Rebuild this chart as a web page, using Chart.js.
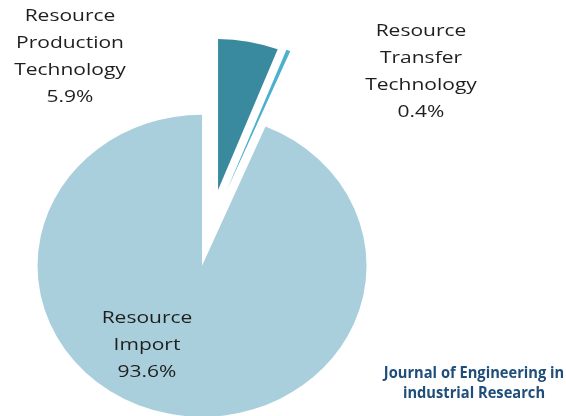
<!DOCTYPE html>
<html>
<head>
<meta charset="utf-8">
<script src="https://cdn.jsdelivr.net/npm/chart.js@4.4.0/dist/chart.umd.min.js"></script>
<style>
  html, body { margin: 0; padding: 0; background: #fff; }
  #wrap { width: 566px; height: 416px; }
</style>
</head>
<body>
<div id="wrap"><canvas id="pieChart" width="566" height="416"></canvas></div>
<script>
// Data
const categories = [
    ['Resource', 'Production', 'Technology'],
    ['Resource', 'Transfer', 'Technology'],
    ['Resource', 'Import']
];
const shares = [5.9, 0.4, 93.6];
const credit = ['Journal of Engineering in', 'industrial Research'];

// Styling
const sliceColors = ['#3a8a9f', '#4bb1cc', '#aacfdc'];
const explode = [42, 44, 42];         // px every slice is pulled out from the centre
const pieRadius = 164.5;
const squash = 0.918;                 // the original pie is slightly flattened
const labelSpots = [[70, 21], [421, 36], [147, 323]];  // centre x, first baseline
const lineGap = 27;

// Draw the arcs ourselves: pulled out along their mid angle and flattened,
// without Chart.js' own offset (which also shrinks the slice)
const explodePie = {
    id: 'explodePie',
    beforeDatasetDraw(chart, args) {
        const ctx = chart.ctx;
        const arcs = args.meta.data;
        const cy = arcs[0].y;
        ctx.save();
        ctx.translate(0, cy);
        ctx.scale(1, squash);
        ctx.translate(0, -cy);
        arcs.forEach((arc, i) => {
            const mid = (arc.startAngle + arc.endAngle) / 2;
            ctx.save();
            ctx.translate(Math.cos(mid) * explode[i], Math.sin(mid) * explode[i]);
            arc.draw(ctx, chart.chartArea);
            ctx.restore();
        });
        ctx.restore();
        return false;
    }
};

function wideText(ctx, text, x, y, sx, sy) {
    ctx.save();
    ctx.translate(x, y);
    ctx.scale(sx, sy);
    ctx.fillText(text, 0, 0);
    ctx.restore();
}

// Slice labels and the journal credit
const labels = {
    id: 'labels',
    afterDraw(chart) {
        const ctx = chart.ctx;
        ctx.save();
        ctx.textAlign = 'center';
        ctx.textBaseline = 'alphabetic';
        ctx.fillStyle = '#1e1e1e';
        ctx.font = '17.5px "Open Sans"';
        categories.forEach((lines, i) => {
            const all = lines.concat(shares[i].toFixed(1) + '%');
            const [x, y] = labelSpots[i];
            all.forEach((t, k) => wideText(ctx, t, x, y + k * lineGap, 1.2, 0.92));
        });

        ctx.fillStyle = '#1f4e7a';
        ctx.font = 'bold 16.5px "Open Sans"';
        credit.forEach((t, k) => wideText(ctx, t, 474, 378 + k * 20, 0.89, 0.95));
        ctx.restore();
    }
};

const pieCtx = document.getElementById('pieChart').getContext('2d');
new Chart(pieCtx, {
    type: 'pie',
    data: {
        labels: categories.map(c => c.join(' ')),
        datasets: [{
            data: shares,
            backgroundColor: sliceColors,
            borderWidth: 0,
            radius: pieRadius,
            clip: false
        }]
    },
    options: {
        responsive: false,
        animation: false,
        events: [],
        layout: { padding: { left: 0, right: 145.4, top: 40, bottom: 0 } },
        plugins: {
            legend: { display: false },
            tooltip: { enabled: false }
        }
    },
    plugins: [explodePie, labels]
});
</script>
</body>
</html>
